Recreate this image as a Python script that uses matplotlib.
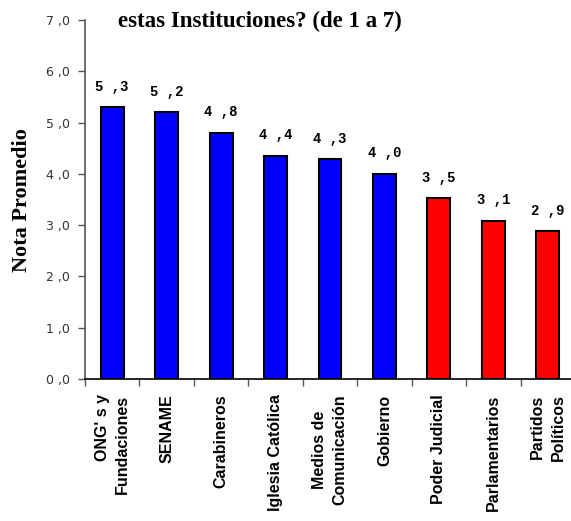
import matplotlib
matplotlib.use("Agg")
import matplotlib.pyplot as plt

categories = ["ONG' s y\nFundaciones", "SENAME", "Carabineros", "Iglesia Católica",
              "Medios de\nComunicación", "Gobierno", "Poder Judicial",
              "Parlamentarios", "Partidos\nPolíticos"]
values = [5.3, 5.2, 4.8, 4.35, 4.28, 4.0, 3.52, 3.08, 2.88]
value_labels = ["5 ,3", "5 ,2", "4 ,8", "4 ,4", "4 ,3", "4 ,0", "3 ,5", "3 ,1", "2 ,9"]
colors = ["#0000FF"] * 6 + ["#FF0000"] * 3
yticks = [0, 1, 2, 3, 4, 5, 6, 7]
ytick_labels = ["0 ,0", "1 ,0", "2 ,0", "3 ,0", "4 ,0", "5 ,0", "6 ,0", "7 ,0"]
title = "estas Instituciones? (de 1 a 7)"
ylabel = "Nota Promedio"

W, H = 571, 521
fig = plt.figure(figsize=(W / 100, H / 100), dpi=100)
ax = fig.add_axes([85 / W, (H - 379) / H, 490 / W, (379 - 20) / H])

x = list(range(len(categories)))
ax.bar(x, values, width=0.42, color=colors, edgecolor="black", linewidth=1.5, zorder=3)
ax.set_xlim(-0.5, len(categories) - 0.5)
ax.set_ylim(0, 7)

for xi, v, lab in zip(x, values, value_labels):
    ax.annotate(lab, (xi, v), xytext=(0, 12), textcoords="offset points",
                ha="center", va="baseline", fontsize=10, fontweight="bold",
                family="Liberation Mono", color="black")

ax.set_yticks(yticks)
ax.set_yticklabels(ytick_labels, fontsize=9, color="#333333", family="DejaVu Sans")
ax.set_xticks([i - 0.5 for i in range(len(categories) + 1)])
ax.set_xticklabels([])
ax.tick_params(axis="both", direction="out", length=5, color="#555555", width=1)
ax.tick_params(axis="y", pad=6)

for s in ["top", "right"]:
    ax.spines[s].set_visible(False)
for s in ["left", "bottom"]:
    ax.spines[s].set_color("#555555")
    ax.spines[s].set_linewidth(1.2)
ax.spines["bottom"].set_color("black")

aligns = ["right", "center", "center", "center", "center", "center", "center", "center", "right"]
for xi, lab, al in zip(x, categories, aligns):
    ax.text(xi, -0.3, lab, rotation=90, ha="center", va="top", fontsize=11.5,
            fontweight="bold", family="Liberation Sans", multialignment=al,
            linespacing=1.45, transform=ax.transData, clip_on=False)

fig.text(260 / W, 1 - 21 / H, title, ha="center", va="center", fontsize=16.5,
         fontweight="bold", family="Liberation Serif")
fig.text(22 / W, (H - 200) / H, ylabel, rotation=90, ha="center", va="center",
         fontsize=16, fontweight="bold", family="Liberation Serif")

fig.savefig("out.png", dpi=100)
